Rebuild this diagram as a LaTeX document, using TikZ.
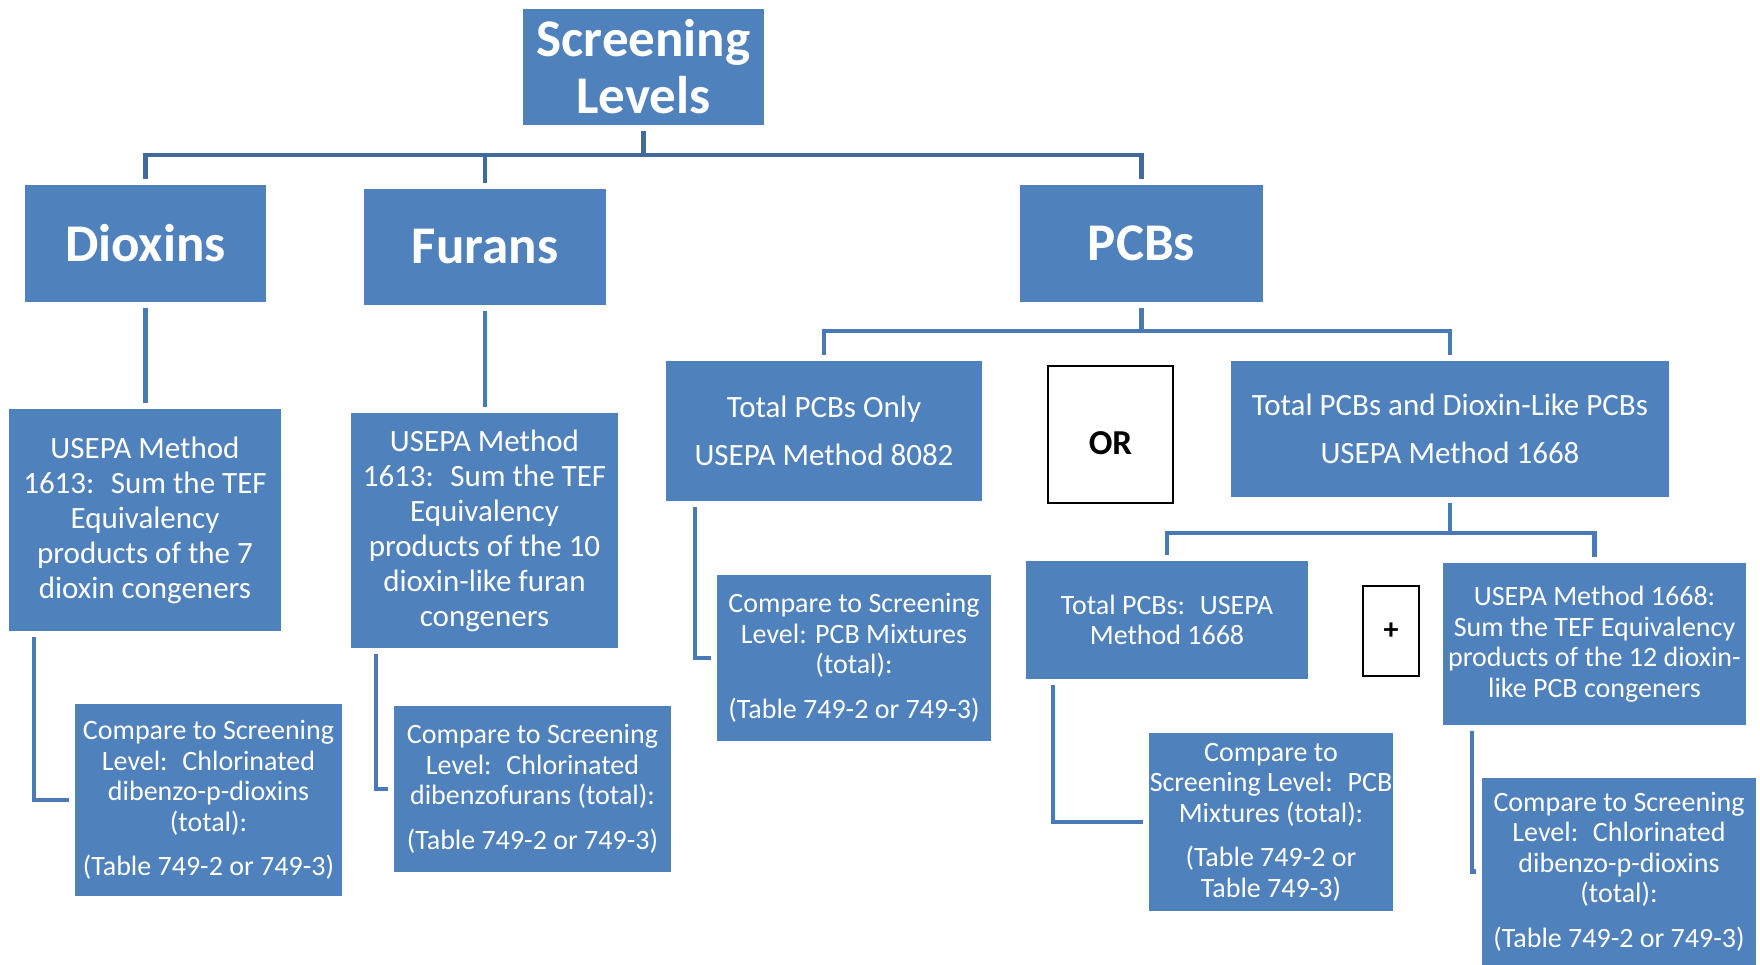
\documentclass[tikz,border=0pt]{standalone}
\usepackage{fontspec}
\setmainfont{Carlito}
\definecolor{boxblue}{HTML}{4F81BD}
\definecolor{lineblue}{HTML}{4A7AB5}
\definecolor{topblue}{HTML}{41699C}

\begin{document}
\begin{tikzpicture}[x=1pt,y=-1pt,
        blk/.style={fill=boxblue,text=white,align=center,inner sep=0pt},
        big/.style={blk,font=\bfseries\fontsize{53}{57}\selectfont},
        mid/.style={blk,font=\fontsize{31}{35}\selectfont},
        sml/.style={blk,font=\fontsize{28}{30.5}\selectfont},
        sign/.style={draw=black,line width=2pt,fill=white,inner sep=0pt},
        conn/.style={draw=lineblue,line width=4.5pt,shorten <=6pt,shorten >=6pt},
        topconn/.style={conn,draw=topblue}]
        \useasboundingbox (0,0) rectangle (1760,965);

        % first level
        \node[big,minimum width=241pt,minimum height=116pt] (sl) at (643.5,67) {Screening\\Levels};
        \node[big,minimum width=241pt,minimum height=117pt] (dioxins) at (145.5,243.5) {Dioxins};
        \node[big,minimum width=242pt,minimum height=116pt] (furans) at (485,247) {Furans};
        \node[big,minimum width=243pt,minimum height=117pt] (pcbs) at (1141.5,243.5) {PCBs};

        \coordinate (topbus) at (0,155);
        \draw[topconn] (sl.south) -- (sl.south |- topbus) -| (dioxins.north);
        \draw[topconn] (sl.south) -- (sl.south |- topbus) -| (furans.north);
        \draw[topconn] (sl.south) -- (sl.south |- topbus) -| (pcbs.north);

        % dioxins and furans
        \node[mid,minimum width=272pt,minimum height=222pt] (dmeth) at (145,520)
                {USEPA Method\\1613:~ Sum the TEF\\Equivalency\\products of the 7\\dioxin congeners};
        \node[mid,minimum width=267pt,minimum height=235pt] (fmeth) at (484.5,530.5)
                {USEPA Method\\1613:~ Sum the TEF\\Equivalency\\products of the 10\\dioxin-like furan\\congeners};
        \node[sml,minimum width=267pt,minimum height=192pt] (dcomp) at (208.5,800)
                {Compare to Screening\\Level:~ Chlorinated\\dibenzo-p-dioxins\\(total):\\[14pt](Table 749-2 or 749-3)};
        \node[sml,minimum width=277pt,minimum height=166pt] (fcomp) at (532.5,789)
                {Compare to Screening\\Level:~ Chlorinated\\dibenzofurans (total):\\[14pt](Table 749-2 or 749-3)};

        \draw[conn] (dioxins.south) -- (dioxins.south |- dmeth.north);
        \draw[conn] (furans.south) -- (furans.south |- fmeth.north);
        \draw[conn] ([xshift=25pt]dmeth.south west) |- (dcomp.west);
        \draw[conn] ([xshift=25pt]fmeth.south west) |- (fcomp.west);

        % PCBs
        \node[mid,minimum width=316pt,minimum height=140pt] (pcbonly) at (824,431)
                {Total PCBs Only\\[13pt]USEPA Method 8082};
        \node[sign,minimum width=125pt,minimum height=137pt,font=\bfseries\fontsize{35}{40}\selectfont] (orbox) at (1110.5,434.5)
                {\raisebox{-20pt}[0pt][0pt]{OR}};
        \node[mid,minimum width=438pt,minimum height=136pt] (pcbdl) at (1450,429)
                {Total PCBs and Dioxin-Like PCBs\\[13pt]USEPA Method 1668};
        \node[sml,minimum width=274pt,minimum height=166pt] (ocomp) at (854,658)
                {Compare to Screening\\Level: PCB Mixtures\\(total):\\[14pt](Table 749-2 or 749-3)};

        \coordinate (pcbbus) at (0,331);
        \draw[conn] (pcbs.south) -- (pcbs.south |- pcbbus) -| (pcbonly.north);
        \draw[conn] (pcbs.south) -- (pcbs.south |- pcbbus) -| (pcbdl.north);
        \draw[conn] ([xshift=29pt]pcbonly.south west) |- (ocomp.west);

        % method 1668
        \node[sml,minimum width=282pt,minimum height=118pt] (tot1668) at (1167,620)
                {Total PCBs:~ USEPA\\Method 1668};
        \node[sign,minimum width=56pt,minimum height=90pt,font=\bfseries\fontsize{30}{34}\selectfont] (plusbox) at (1391,631) {+};
        \node[sml,minimum width=303pt,minimum height=162pt] (sum1668) at (1594.5,644)
                {USEPA Method 1668:\\Sum the TEF Equivalency\\products of the 12 dioxin-\\like PCB congeners};
        \node[sml,minimum width=244pt,minimum height=178pt] (mcomp) at (1271,822)
                {Compare to\\Screening Level:~ PCB\\Mixtures (total):\\[14pt](Table 749-2 or\\Table 749-3)};
        \node[sml,minimum width=274pt,minimum height=187pt] (lcomp) at (1619,871.5)
                {Compare to Screening\\Level:~ Chlorinated\\dibenzo-p-dioxins\\(total):\\[14pt](Table 749-2 or 749-3)};

        \coordinate (dlbus) at (0,533);
        \draw[conn] (pcbdl.south) -- (pcbdl.south |- dlbus) -| (tot1668.north);
        \draw[conn] (pcbdl.south) -- (pcbdl.south |- dlbus) -| (sum1668.north);
        \draw[conn] ([xshift=27pt]tot1668.south west) |- (mcomp.west);
        \draw[conn] ([xshift=29pt]sum1668.south west) |- (lcomp.west);
\end{tikzpicture}
\end{document}
